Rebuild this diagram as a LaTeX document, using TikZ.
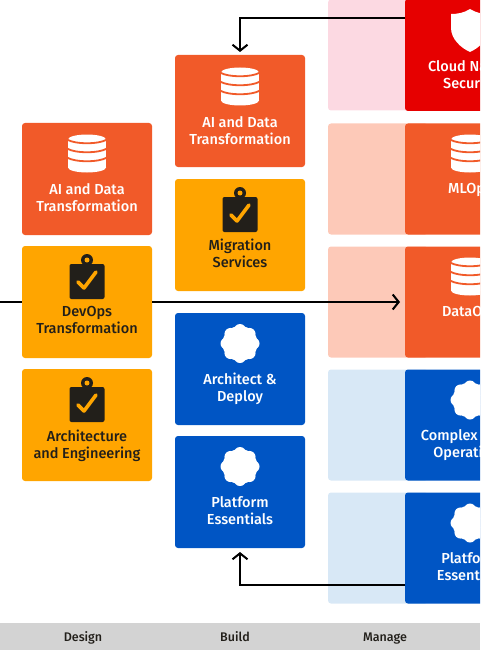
\documentclass[tikz,border=0pt]{standalone}
\usepackage{fontspec}
\setmainfont[UprightFont=* Medium]{Fira Sans}
\usetikzlibrary{arrows.meta,positioning}

\definecolor{burnt}{HTML}{F15A29}
\definecolor{amber}{HTML}{FFA500}
\definecolor{royal}{HTML}{0055C4}
\definecolor{alert}{HTML}{E60000}
\definecolor{palepink}{HTML}{FCD9E2}
\definecolor{palepeach}{HTML}{FDC9B8}
\definecolor{paleblue}{HTML}{D8E8F6}
\definecolor{inkdark}{HTML}{221F1A}
\definecolor{bandgrey}{HTML}{D3D3D3}

\tikzset{
    dbicon/.pic={
        \fill[white] (0,-14) ellipse [x radius=19, y radius=5];
        \fill[white] (-19,-14) rectangle (19,14);
        \fill[white] (0,14) ellipse [x radius=19, y radius=5];
        \foreach \y in {-14,-5,4}
            \draw[burnt, line width=1.8pt] (-20,\y) .. controls (-12,\y+5) and (12,\y+5) .. (20,\y);
    },
    clipicon/.pic={
        \fill[inkdark] (0,-17) circle (6);
        \fill[inkdark, rounded corners=2pt] (-17.5,-13) rectangle (17.5,22);
        \fill[amber] (0,-17) circle (2.5);
        \draw[amber, line width=3.6pt, line cap=round, line join=round] (-9,5) -- (-3,11) -- (9,-5);
    },
    flowericon/.pic={
        \fill[white] (0,0) circle (17.5);
        \foreach \a in {0,45,...,315}
            \fill[white] (\a:13.5) circle (6);
    },
    shieldicon/.pic={
        \fill[white] (0,-21) .. controls (-6,-17) and (-13,-16) .. (-19,-16)
            -- (-19,-2) .. controls (-19,9) and (-9,18) .. (0,22)
            .. controls (9,18) and (19,9) .. (19,-2) -- (19,-16)
            .. controls (13,-16) and (6,-17) .. (0,-21) -- cycle;
    }
}

\begin{document}
\begin{tikzpicture}[
    x=1pt, y=-1pt,
    font=\fontsize{14.5}{17}\selectfont,
    >=Stealth,
    tile/.style={rectangle, rounded corners=3pt, minimum width=130pt, minimum height=112pt, inner sep=0pt, outer sep=0pt},
    backtile/.style={rectangle, rounded corners=3pt, minimum width=100pt, minimum height=111pt, inner sep=0pt, outer sep=0pt},
    whitecap/.style={text=white, align=center, inner sep=0pt},
    darkcap/.style={text=inkdark, align=center, inner sep=0pt},
    bandcap/.style={text=inkdark, font=\fontsize{12.5}{15}\selectfont, inner sep=0pt, anchor=base},
    link/.style={draw=black, line width=1.4pt},
    tip/.style={-{Straight Barb[length=6pt, width=15pt, line width=2pt]}}
]
\useasboundingbox (0,0) rectangle (480,650);
\clip (0,0) rectangle (480,650);

% bottom band
\fill[bandgrey] (0,623) rectangle (480,650);
\node[bandcap] (designlabel) at (83,641.5) {Design};
\node[bandcap] (buildlabel) at (235,641.5) {Build};
\node[bandcap] (managelabel) at (385,641.5) {Manage};

% design
\node[tile, fill=burnt] (d1) at (87,179) {};
\node[tile, fill=amber, below=11pt of d1] (d2) {};
\node[tile, fill=amber, below=11pt of d2] (d3) {};
\pic at ([yshift=-30.5pt]d1.north) {dbicon};
\pic at ([yshift=-31pt]d2.north) {clipicon};
\pic at ([yshift=-31pt]d3.north) {clipicon};
\node[whitecap, below=60pt of d1.north] (d1cap) {AI and Data\\Transformation};
\node[darkcap, below=60.5pt of d2.north] (d2cap) {DevOps\\Transformation};
\node[darkcap, below=60.5pt of d3.north] (d3cap) {Architecture\\and Engineering};

% build
\node[tile, fill=burnt] (b1) at (240,111) {};
\node[tile, fill=amber, below=12pt of b1] (b2) {};
\node[tile, fill=royal, below=22pt of b2] (b3) {};
\node[tile, fill=royal, below=11pt of b3] (b4) {};
\pic at ([yshift=-31.5pt]b1.north) {dbicon};
\pic at ([yshift=-31pt]b2.north) {clipicon};
\pic at ([yshift=-30.5pt]b3.north) {flowericon};
\pic at ([yshift=-30.5pt]b4.north) {flowericon};
\node[whitecap, below=61pt of b1.north] (b1cap) {AI and Data\\Transformation};
\node[darkcap, below=60pt of b2.north] (b2cap) {Migration\\Services};
\node[whitecap, below=60pt of b3.north] (b3cap) {Architect \&\\Deploy};
\node[whitecap, below=60.5pt of b4.north] (b4cap) {Platform\\Essentials};

% manage
\foreach \nm/\yy/\col in {p1/55/palepink,p2/179/palepeach,p3/302/palepeach,p4/425/paleblue,p5/548/paleblue}
    \node[backtile, fill=\col] (\nm) at (378,\yy) {};
\node[tile, fill=alert] (m1) at (470,55) {};
\node[tile, fill=burnt, minimum height=111pt] (m2) at (470,179) {};
\node[tile, fill=burnt, minimum height=111pt] (m3) at (470,302) {};
\node[tile, fill=royal, minimum height=111pt] (m4) at (470,425) {};
\node[tile, fill=royal, minimum height=111pt] (m5) at (470,548) {};
\pic at ([yshift=-31pt]m1.north) {shieldicon};
\pic at ([yshift=-30pt]m2.north) {dbicon};
\pic at ([yshift=-30pt]m3.north) {dbicon};
\pic at ([yshift=-30.5pt]m4.north) {flowericon};
\pic at ([yshift=-30.5pt]m5.north) {flowericon};
\node[whitecap, below=61pt of m1.north] (m1cap) {Cloud Native\\Security};
\node[whitecap, below=59.5pt of m2.north] (m2cap) {MLOps};
\node[whitecap, below=60pt of m3.north] (m3cap) {DataOps};
\node[whitecap, below=59.5pt of m4.north] (m4cap) {Complex Cloud\\Operations};
\node[whitecap, below=60pt of m5.north] (m5cap) {Platform\\Essentials};

% links
\coordinate (entry) at (0,302);
\draw[link] (entry) -- (d2.west);
\draw[link, tip, shorten >=5pt] (d2.east) -- (m3.west);
\draw[link, tip, shorten >=3pt] ([yshift=37pt]m1.west) -| (b1.north);
\draw[link, tip, shorten >=4pt] ([yshift=-37pt]m5.west) -| (b4.south);
\end{tikzpicture}
\end{document}
